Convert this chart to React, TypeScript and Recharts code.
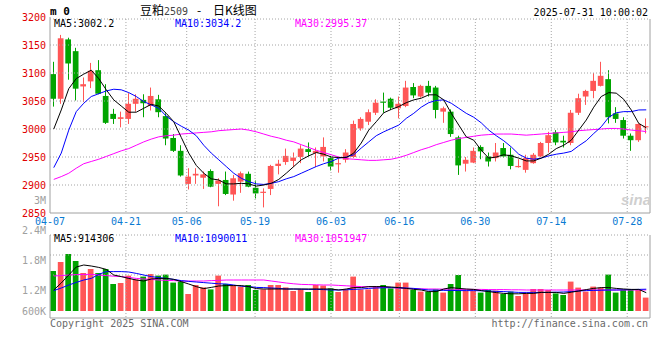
import React from 'react';
import { ComposedChart, Bar, Line, XAxis, YAxis, ReferenceLine } from 'recharts';

const dates = [
  '04-07','04-08','04-09','04-10','04-11','04-14','04-15','04-16','04-17','04-18',
  '04-21','04-22','04-23','04-24','04-25','04-28','04-29','04-30',
  '05-06','05-07','05-08','05-09','05-12','05-13','05-14','05-15','05-16',
  '05-19','05-20','05-21','05-22','05-23','05-26','05-27','05-28','05-29','05-30',
  '06-03','06-04','06-05','06-06','06-09','06-10','06-11','06-12','06-13',
  '06-16','06-17','06-18','06-19','06-20','06-23','06-24','06-25','06-26','06-27',
  '06-30','07-01','07-02','07-03','07-04','07-07','07-08','07-09','07-10','07-11',
  '07-14','07-15','07-16','07-17','07-18','07-21','07-22','07-23','07-24','07-25',
  '07-28','07-29','07-30','07-31',
];

const openP = [
  3098,3054,3160,3139,3076,3085,3105,3059,3027,3018,
  3018,3045,3052,3041,3053,3023,2984,2961,2902,2917,
  2913,2925,2902,2909,2883,2906,2920,2895,2886,2893,
  2934,2941,2943,2950,2964,2957,2951,2948,2937,2945,
  2950,3001,3013,3029,3049,3054,3037,3041,3075,3058,
  3077,3074,3031,3031,2985,2938,2940,2968,2951,2948,
  2966,2954,2932,2927,2939,2951,2975,2994,2979,2975,
  3029,3058,3068,3077,3089,3028,3016,2988,2980,3003,
];
const highP = [
  3120,3168,3163,3145,3092,3118,3123,3080,3036,3031,
  3064,3062,3062,3074,3061,3028,2991,2971,2930,2930,
  2924,2928,2912,2924,2918,2924,2924,2908,2894,2936,
  2945,2965,2958,2971,2976,2967,2985,2952,2948,2964,
  3015,3021,3035,3053,3065,3056,3058,3086,3082,3079,
  3086,3077,3040,3035,2988,2950,2967,2971,2958,2975,
  2975,2967,2946,2954,2957,2977,2995,2998,2988,3034,
  3063,3070,3100,3120,3105,3039,3021,2992,3010,3019,
];
const lowP = [
  3040,3045,3088,3051,3048,3073,3062,3009,3009,3003,
  3009,3031,3021,3033,3021,2971,2959,2915,2892,2902,
  2893,2896,2862,2882,2872,2886,2896,2876,2860,2882,
  2919,2936,2932,2939,2951,2932,2942,2926,2922,2940,
  2948,2997,3007,3025,3029,3034,3019,3039,3055,3056,
  3058,3019,3011,2986,2918,2924,2939,2946,2933,2942,
  2949,2928,2931,2922,2938,2950,2958,2971,2967,2971,
  3025,3043,3055,3076,3010,3011,2983,2961,2977,2992,
];
const closeP = [
  3054,3162,3117,3072,3080,3104,3063,3011,3018,3021,
  3045,3054,3046,3059,3030,2983,2961,2917,2915,2920,
  2919,2897,2908,2884,2912,2921,2897,2885,2888,2934,
  2938,2952,2949,2965,2959,2961,2968,2933,2939,2958,
  3009,3018,3030,3047,3047,3038,3045,3074,3060,3077,
  3065,3034,3037,2991,2935,2945,2961,2960,2942,2958,
  2951,2934,2934,2948,2954,2975,2989,2976,2976,3029,
  3055,3068,3086,3095,3021,3018,2988,2980,3009,3005,
];

const ma5 = [
  3000,3034,3072,3090,3098,3105,3090,3070,3052,3041,
  3030,3030,3037,3044,3041,3028,3013,2985,2957,2935,
  2921,2911,2909,2902,2902,2903,2902,2898,2900,2903,
  2910,2921,2933,2945,2952,2958,2955,2950,2949,2949,
  2957,2975,2998,3013,3029,3035,3040,3047,3052,3055,
  3061,3061,3052,3028,3007,2986,2980,2962,2948,2950,
  2954,2952,2948,2943,2943,2948,2955,2965,2971,2980,
  2998,3016,3039,3058,3065,3064,3053,3034,3010,3002.2,
];
const ma10 = [
  2931,2957,2998,3031,3046,3058,3063,3068,3071,3070,
  3065,3058,3049,3043,3037,3023,3013,3005,2998,2988,
  2971,2957,2945,2933,2921,2912,2906,2902,2901,2903,
  2906,2911,2915,2921,2927,2933,2938,2942,2948,2950,
  2954,2966,2977,2988,2995,3001,3007,3019,3028,3039,
  3047,3051,3052,3046,3037,3028,3021,3011,2998,2988,
  2979,2968,2955,2948,2946,2948,2952,2955,2957,2960,
  2970,2979,2992,3004,3021,3029,3031,3031,3034,3034.2,
];
const ma30 = [
  2910,2915,2921,2930,2938,2942,2946,2951,2956,2961,
  2965,2971,2977,2982,2986,2988,2989,2991,2992,2993,
  2994,2995,2997,2998,2999,3000,2998,2995,2991,2987,
  2984,2980,2977,2972,2967,2962,2958,2954,2950,2947,
  2946,2945,2944,2944,2945,2946,2949,2953,2958,2963,
  2967,2972,2976,2980,2983,2985,2987,2989,2990,2991,
  2991,2991,2990,2989,2990,2991,2992,2993,2994,2995,
  2997,2998,2999,3000,3001,3001,3000,2998,2997,2995.37,
];

const volume = [
  2000000,2450000,2850000,2500000,1900000,2100000,1900000,2100000,1350000,1400000,
  1770000,1580000,1720000,1850000,1770000,1820000,1420000,1470000,850000,1300000,
  1180000,1080000,1770000,1350000,1270000,1220000,1300000,1050000,1080000,1300000,
  1300000,1180000,1000000,1080000,950000,1300000,1270000,1130000,950000,1080000,
  1720000,1080000,1080000,1250000,1300000,1130000,1420000,1420000,1050000,970000,
  970000,1080000,920000,1350000,1800000,1020000,1020000,920000,1050000,1020000,
  850000,970000,750000,880000,1100000,1100000,1050000,880000,800000,1470000,
  1170000,970000,1220000,1170000,1820000,920000,1050000,1080000,1080000,670000,
];
const volMa5 = [
  1050000,1400000,1800000,2200000,2300000,2250000,2180000,2080000,1800000,1720000,
  1630000,1550000,1500000,1600000,1630000,1630000,1580000,1470000,1350000,1220000,
  1120000,1180000,1250000,1270000,1270000,1270000,1220000,1120000,1100000,1100000,
  1100000,1100000,1100000,1100000,1100000,1100000,1100000,1100000,1050000,1100000,
  1170000,1170000,1220000,1220000,1220000,1200000,1170000,1130000,1080000,1050000,
  970000,970000,1100000,1170000,1130000,1100000,1080000,1020000,970000,920000,
  880000,860000,860000,880000,880000,930000,930000,930000,880000,940000,
  1000000,1070000,1130000,1170000,1170000,1130000,1100000,1080000,1080000,914306,
];
const volMa10 = [
  1020000,1150000,1300000,1430000,1550000,1630000,1830000,1970000,1970000,1970000,
  1950000,1880000,1800000,1720000,1670000,1630000,1580000,1520000,1480000,1450000,
  1420000,1390000,1360000,1350000,1300000,1240000,1220000,1180000,1170000,1150000,
  1130000,1100000,1100000,1090000,1080000,1080000,1070000,1050000,1050000,1060000,
  1080000,1100000,1130000,1150000,1160000,1170000,1160000,1150000,1130000,1090000,
  1050000,1040000,1030000,1030000,1020000,1020000,1020000,1010000,1000000,980000,
  970000,950000,930000,930000,930000,930000,930000,940000,950000,970000,
  1000000,1020000,1030000,1040000,1050000,1050000,1060000,1070000,1080000,1090011,
];
const volMa30 = [
  1750000,1770000,1800000,1820000,1830000,1830000,1800000,1770000,1740000,1720000,
  1680000,1630000,1600000,1580000,1550000,1530000,1520000,1500000,1500000,1500000,
  1500000,1520000,1530000,1550000,1550000,1550000,1550000,1550000,1550000,1500000,
  1450000,1400000,1360000,1330000,1320000,1310000,1300000,1300000,1280000,1260000,
  1240000,1220000,1210000,1200000,1180000,1170000,1150000,1130000,1120000,1110000,
  1100000,1100000,1090000,1090000,1080000,1080000,1080000,1080000,1070000,1070000,
  1070000,1060000,1060000,1050000,1050000,1050000,1050000,1050000,1050000,1050000,
  1050000,1050000,1050000,1050000,1050000,1050000,1050000,1050000,1050000,1051947,
];

const dateTicks = ['04-07','04-21','05-06','05-19','06-03','06-16','06-30','07-14','07-28'];
const volGridDates = ['04-21','05-19','06-03','06-16','06-30','07-14','07-28'];
const priceTicks = [2850, 2900, 2950, 3000, 3050, 3100, 3150, 3200];
const priceGrid = [2900, 2950, 3000, 3050, 3100, 3150];
const volTickValues = [600000, 1200000, 1800000, 2400000, 3000000];
const volTickLabels = ['600K', '1.2M', '1.8M', '2.4M', '3M'];

// layout constants (in data units of the respective axes)
const PRICE_MIN = 2850;
const PRICE_MAX = 3200;
const PRICE_FRAME_TOP = 3196.4;
const VOL_DOMAIN: [number, number] = [-450000, 5550000];
const VOL_FRAME_TOP = 3800000;
const VOL_FRAME_BOTTOM = -350000;
const volGrid = [1800000, 2800000];

const RED = '#ff5656';
const GREEN = '#00a400';
const GRID = '#a4a4a4';
const BORDER = '#a0a0a0';
const BLUE_LABEL = '#0a7ad2';
const MONO = '"DejaVu Sans Mono", monospace';

const lastIdx = dates.length - 1;
const tickIdx = dateTicks.map((d) => dates.indexOf(d));
const volGridIdx = volGridDates.map((d) => dates.indexOf(d));

const rows = dates.map((d, i) => ({
  date: d,
  idx: i,
  open: openP[i],
  high: highP[i],
  low: lowP[i],
  close: closeP[i],
  range: [lowP[i], highP[i]],
  ma5: ma5[i],
  ma10: ma10[i],
  ma30: ma30[i],
  vol: volume[i],
  vma5: volMa5[i],
  vma10: volMa10[i],
  vma30: volMa30[i],
}));

const Candle = (props: any) => {
  const { x, y, width, height, payload } = props;
  if (x == null || y == null || !payload) return null;
  const top = Math.min(y, y + height);
  const h = Math.abs(height);
  const { open, close, high, low } = payload;
  const k = high > low ? h / (high - low) : 0;
  const yo = top + (high - open) * k;
  const yc = top + (high - close) * k;
  const color = close >= open ? RED : GREEN;
  const bx = x - 0.7;
  const bw = width - 0.3;
  const cx = Math.floor(bx + bw / 2) + 0.5;
  const bTop = Math.min(yo, yc);
  const bH = Math.max(1.2, Math.abs(yo - yc));
  return (
    <g>
      <line x1={cx} x2={cx} y1={top} y2={top + h} stroke={color} strokeWidth={1} />
      <rect x={bx} y={bTop} width={bw} height={bH} fill={color} />
    </g>
  );
};

const VolBar = (props: any) => {
  const { x, y, width, height, payload } = props;
  if (x == null || y == null || !payload) return null;
  const top = Math.min(y, y + height);
  const h = Math.abs(height);
  return (
    <rect
      x={x - 0.7}
      y={top}
      width={width - 0.3}
      height={h}
      fill={payload.close >= payload.open ? RED : GREEN}
    />
  );
};

const VolTick = (props: any) => {
  const { x, y, payload } = props;
  const i = volTickValues.indexOf(payload.value);
  const yy = payload.value === volTickValues[0] ? y - 9 : y;
  return (
    <text x={x} y={yy} dy="0.355em" textAnchor="end" fill="#a0a0a0" fontSize={10} fontFamily={MONO}>
      {volTickLabels[i]}
    </text>
  );
};

export default function App() {
  const t = { fontFamily: MONO, fontSize: 10 } as const;
  return (
    <div style={{ position: 'absolute', left: 0, top: 0, width: 660, height: 360, background: '#fff', overflow: 'hidden' }}>
      <div style={{ position: 'absolute', left: 0, top: 0 }}>
        <ComposedChart width={660} height={235} data={rows} margin={{ top: 17, right: 10, bottom: 2, left: 6 }}>
          <XAxis xAxisId="c" dataKey="date" type="category" hide />
          <XAxis
            dataKey="idx"
            type="number"
            domain={[0, lastIdx]}
            allowDataOverflow
            ticks={tickIdx}
            interval={0}
            tickFormatter={(v: number) => dates[v]}
            axisLine={{ stroke: BORDER }}
            tickLine={false}
            tickSize={0}
            tickMargin={5}
            height={20}
            tick={{ fill: BLUE_LABEL, fontSize: 10, fontFamily: MONO }}
          />
          <YAxis
            domain={[PRICE_MIN, PRICE_MAX]}
            allowDataOverflow
            ticks={priceTicks}
            interval={0}
            width={44}
            axisLine={{ stroke: BORDER }}
            tickLine={false}
            tickSize={0}
            tickMargin={4}
            tick={{ fill: '#e00000', fontSize: 10, fontFamily: MONO }}
          />
          {priceGrid.map((v) => (
            <ReferenceLine key={'h' + v} y={v} stroke={GRID} strokeDasharray="1 2" />
          ))}
          <ReferenceLine y={PRICE_FRAME_TOP} stroke={GRID} strokeDasharray="1 2" />
          {tickIdx.slice(1).map((i) => (
            <ReferenceLine
              key={'v' + i}
              segment={[{ x: i, y: PRICE_FRAME_TOP }, { x: i, y: PRICE_MIN }]}
              stroke={GRID}
              strokeDasharray="1 2"
            />
          ))}
          <ReferenceLine segment={[{ x: lastIdx, y: PRICE_FRAME_TOP }, { x: lastIdx, y: PRICE_MIN }]} stroke={BORDER} />
          <Bar xAxisId="c" dataKey="range" barSize={6} shape={Candle} isAnimationActive={false} />
          <Line xAxisId="c" dataKey="ma30" stroke="#ff00ff" strokeWidth={1} dot={false} isAnimationActive={false} />
          <Line xAxisId="c" dataKey="ma10" stroke="#0000ff" strokeWidth={1} dot={false} isAnimationActive={false} />
          <Line xAxisId="c" dataKey="ma5" stroke="#000000" strokeWidth={1} dot={false} isAnimationActive={false} />
        </ComposedChart>
      </div>
      <div style={{ position: 'absolute', left: 0, top: 190 }}>
        <ComposedChart width={660} height={170} data={rows} margin={{ top: 10, right: 10, bottom: 40, left: 6 }}>
          <XAxis xAxisId="c" dataKey="date" type="category" hide />
          <XAxis dataKey="idx" type="number" domain={[0, lastIdx]} allowDataOverflow hide />
          <YAxis
            yAxisId="lbl"
            domain={[volTickValues[0], volTickValues[volTickValues.length - 1]]}
            allowDataOverflow
            ticks={volTickValues}
            interval={0}
            width={44}
            axisLine={false}
            tickLine={false}
            tickSize={0}
            tickMargin={4}
            tick={<VolTick />}
          />
          <YAxis yAxisId="v" domain={VOL_DOMAIN} allowDataOverflow hide />
          {volGrid.map((v) => (
            <ReferenceLine key={'vh' + v} yAxisId="v" y={v} stroke={GRID} strokeDasharray="1 2" />
          ))}
          <ReferenceLine yAxisId="v" y={VOL_FRAME_TOP} stroke={GRID} strokeDasharray="1 2" />
          {volGridIdx.map((i) => (
            <ReferenceLine
              key={'vv' + i}
              yAxisId="v"
              segment={[{ x: i, y: VOL_FRAME_TOP }, { x: i, y: VOL_FRAME_BOTTOM }]}
              stroke={GRID}
              strokeDasharray="1 2"
            />
          ))}
          <ReferenceLine yAxisId="v" y={VOL_FRAME_BOTTOM} stroke={BORDER} />
          <ReferenceLine yAxisId="v" segment={[{ x: 0, y: VOL_FRAME_TOP }, { x: 0, y: VOL_FRAME_BOTTOM }]} stroke={BORDER} />
          <ReferenceLine yAxisId="v" segment={[{ x: lastIdx, y: VOL_FRAME_TOP }, { x: lastIdx, y: VOL_FRAME_BOTTOM }]} stroke={BORDER} />
          <Bar xAxisId="c" yAxisId="v" dataKey="vol" barSize={6} shape={VolBar} isAnimationActive={false} />
          <Line xAxisId="c" yAxisId="v" dataKey="vma30" stroke="#ff00ff" strokeWidth={1} dot={false} isAnimationActive={false} />
          <Line xAxisId="c" yAxisId="v" dataKey="vma10" stroke="#0000ff" strokeWidth={1} dot={false} isAnimationActive={false} />
          <Line xAxisId="c" yAxisId="v" dataKey="vma5" stroke="#000000" strokeWidth={1} dot={false} isAnimationActive={false} />
        </ComposedChart>
      </div>
      <svg width={660} height={360} style={{ position: 'absolute', left: 0, top: 0, pointerEvents: 'none' }}>
        <text x={50} y={15} fontFamily={MONO} fontSize={11} fontWeight="bold" fill="#000">m 0</text>
        <text y={14.5} fontSize={12} fill="#000" fontFamily='"Noto Sans CJK SC", sans-serif'>
          <tspan x={140}>豆粕</tspan>
          <tspan x={164} fontFamily={MONO} fontSize={10} fill="#444">2509</tspan>
          <tspan x={197}>-</tspan>
          <tspan x={213}>日K线图</tspan>
        </text>
        <text x={648} y={16} textAnchor="end" {...t} fill="#000">2025-07-31 10:00:02</text>
        <text x={54} y={27} {...t} fill="#000">{'MA5:' + ma5[lastIdx]}</text>
        <text x={175} y={27} {...t} fill="#0000ff">{'MA10:' + ma10[lastIdx]}</text>
        <text x={295} y={27} {...t} fill="#ff00ff">{'MA30:' + ma30[lastIdx]}</text>
        <text x={54} y={242} {...t} fill="#000">{'MA5:' + volMa5[lastIdx]}</text>
        <text x={175} y={242} {...t} fill="#0000ff">{'MA10:' + volMa10[lastIdx]}</text>
        <text x={295} y={242} {...t} fill="#ff00ff">{'MA30:' + volMa30[lastIdx]}</text>
        <text x={621} y={205} fontFamily='"Liberation Sans", sans-serif' fontStyle="italic" fontWeight="bold" fontSize={15} fill="#cfcfcf">sina</text>
        <text x={50} y={327} {...t} fill="#6a6a6a">Copyright 2025 SINA.COM</text>
        <text x={648} y={327} textAnchor="end" {...t} fill="#6a6a6a">http://finance.sina.com.cn</text>
      </svg>
    </div>
  );
}
